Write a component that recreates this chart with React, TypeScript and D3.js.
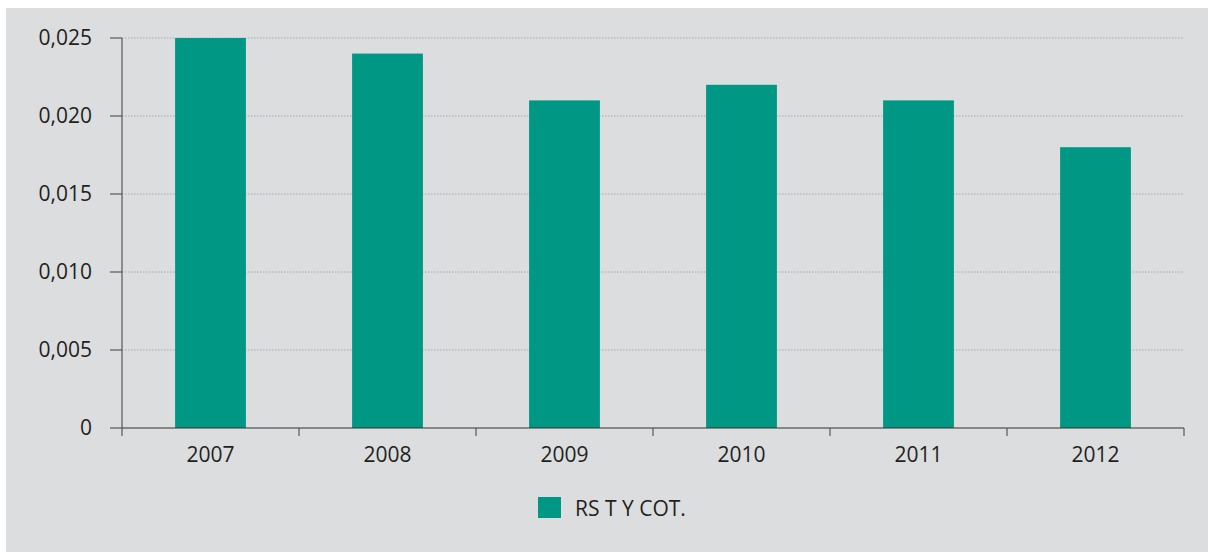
import React from "react";
import * as d3 from "d3";

const categories = ["2007", "2008", "2009", "2010", "2011", "2012"];
const values = [0.025, 0.024, 0.021, 0.022, 0.021, 0.018];
const yTicks = [0, 0.005, 0.01, 0.015, 0.02, 0.025];
const seriesName = "RS T Y COT.";

const W = 1208, H = 552;
const left = 122, right = 1184, top = 38, bottom = 428;
const font = "'Open Sans', sans-serif";
const textColor = "#231f20";
const barColor = "#009784";

export default function App() {
  const x = d3.scaleBand<string>().domain(categories).range([left, right]).paddingInner(0).paddingOuter(0);
  const y = d3.scaleLinear().domain([0, 0.025]).range([bottom, top]);
  const bw = x.bandwidth() * 0.4;
  const fmt = (v: number) => (v === 0 ? "0" : d3.format(".3f")(v).replace(".", ","));
  return (
    <svg width={W} height={H} style={{ position: "absolute", left: 0, top: 0 }}>
      <rect x={6} y={8} width={W - 6} height={H - 8} fill="#dcdddf" />
      {yTicks.filter((t) => t > 0).map((t) => (
        <line key={"g" + t} x1={left} x2={right} y1={y(t)} y2={y(t)} stroke="#a7a8aa" strokeWidth={1} strokeDasharray="1.5,1.5" />
      ))}
      {categories.map((c, i) => (
        <rect key={c} x={x(c)! + x.bandwidth() / 2 - bw / 2} y={y(values[i])} width={bw} height={bottom - y(values[i])} fill={barColor} />
      ))}
      <line x1={left} x2={left} y1={top} y2={bottom + 8} stroke="#58585a" strokeWidth={1.2} />
      {yTicks.map((t) => (
        <g key={"t" + t}>
          <line x1={left - 12} x2={left} y1={y(t)} y2={y(t)} stroke="#58585a" strokeWidth={1.2} />
          <text x={92} y={y(t)} dy="0.35em" textAnchor="end" fontFamily={font} fontSize={21} fill={textColor}>{fmt(t)}</text>
        </g>
      ))}
      <line x1={left} x2={right} y1={bottom} y2={bottom} stroke="#333" strokeWidth={1.2} />
      {categories.map((c) => (
        <line key={"xt" + c} x1={x(c)! + x.bandwidth()} x2={x(c)! + x.bandwidth()} y1={bottom} y2={bottom + 8} stroke="#58585a" strokeWidth={1.2} />
      ))}
      {categories.map((c) => (
        <text key={"xl" + c} x={x(c)! + x.bandwidth() / 2} y={462} textAnchor="middle" fontFamily={font} fontSize={21} fill={textColor}>{c}</text>
      ))}
      <rect x={538} y={497} width={23} height={21} fill={barColor} />
      <text x={575} y={516} fontFamily={font} fontSize={21} fill={textColor}>{seriesName}</text>
    </svg>
  );
}
